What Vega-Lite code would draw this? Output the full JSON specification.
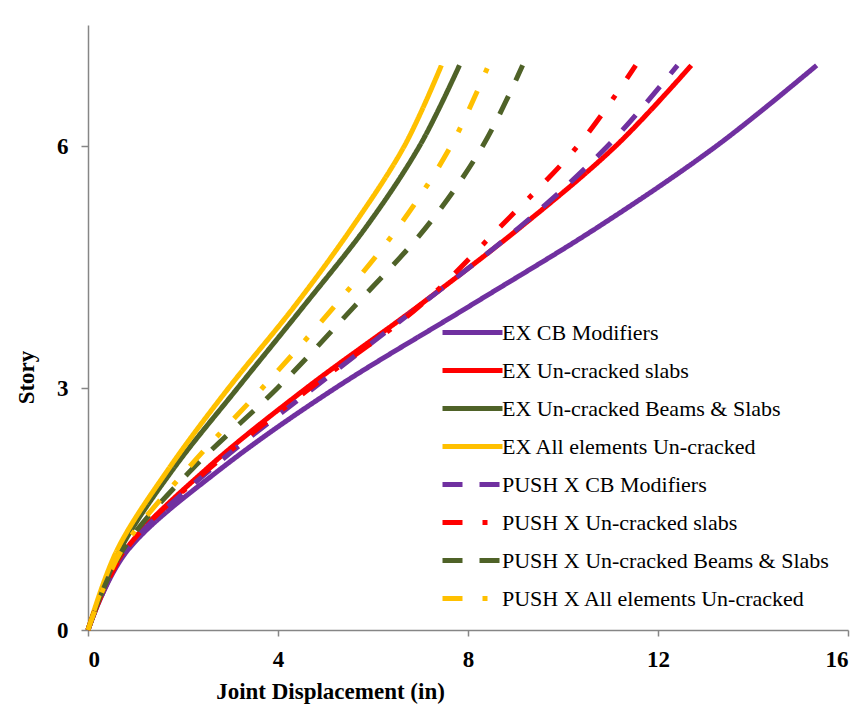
{
  "$schema": "https://vega.github.io/schema/vega-lite/v6.json",
  "width": 760,
  "height": 605,
  "autosize": "none",
  "padding": {"left": 88, "top": 25, "right": 15, "bottom": 93},
  "background": "white",
  "config": {
    "view": {"stroke": null},
    "font": "Liberation Serif",
    "legend": {"labelFont": "Liberation Serif"}
  },
  "data": {
    "values": [
      {"series": "EX CB Modifiers", "story": 0, "disp": 0},
      {"series": "EX CB Modifiers", "story": 1, "disp": 0.85},
      {"series": "EX CB Modifiers", "story": 2, "disp": 2.8},
      {"series": "EX CB Modifiers", "story": 3, "disp": 5.21},
      {"series": "EX CB Modifiers", "story": 4, "disp": 7.99},
      {"series": "EX CB Modifiers", "story": 5, "disp": 10.75},
      {"series": "EX CB Modifiers", "story": 6, "disp": 13.23},
      {"series": "EX CB Modifiers", "story": 7, "disp": 15.34},
      {"series": "EX Un-cracked slabs", "story": 0, "disp": 0},
      {"series": "EX Un-cracked slabs", "story": 1, "disp": 0.8},
      {"series": "EX Un-cracked slabs", "story": 2, "disp": 2.5},
      {"series": "EX Un-cracked slabs", "story": 3, "disp": 4.6},
      {"series": "EX Un-cracked slabs", "story": 4, "disp": 6.92},
      {"series": "EX Un-cracked slabs", "story": 5, "disp": 9.12},
      {"series": "EX Un-cracked slabs", "story": 6, "disp": 11.11},
      {"series": "EX Un-cracked slabs", "story": 7, "disp": 12.7},
      {"series": "EX Un-cracked Beams & Slabs", "story": 0, "disp": 0},
      {"series": "EX Un-cracked Beams & Slabs", "story": 1, "disp": 0.68},
      {"series": "EX Un-cracked Beams & Slabs", "story": 2, "disp": 1.8},
      {"series": "EX Un-cracked Beams & Slabs", "story": 3, "disp": 3.15},
      {"series": "EX Un-cracked Beams & Slabs", "story": 4, "disp": 4.52},
      {"series": "EX Un-cracked Beams & Slabs", "story": 5, "disp": 5.86},
      {"series": "EX Un-cracked Beams & Slabs", "story": 6, "disp": 6.98},
      {"series": "EX Un-cracked Beams & Slabs", "story": 7, "disp": 7.82},
      {"series": "EX All elements Un-cracked", "story": 0, "disp": 0},
      {"series": "EX All elements Un-cracked", "story": 1, "disp": 0.62},
      {"series": "EX All elements Un-cracked", "story": 2, "disp": 1.7},
      {"series": "EX All elements Un-cracked", "story": 3, "disp": 2.96},
      {"series": "EX All elements Un-cracked", "story": 4, "disp": 4.33},
      {"series": "EX All elements Un-cracked", "story": 5, "disp": 5.57},
      {"series": "EX All elements Un-cracked", "story": 6, "disp": 6.66},
      {"series": "EX All elements Un-cracked", "story": 7, "disp": 7.44},
      {"series": "PUSH X CB Modifiers", "story": 0, "disp": 0},
      {"series": "PUSH X CB Modifiers", "story": 1, "disp": 0.82},
      {"series": "PUSH X CB Modifiers", "story": 2, "disp": 2.6},
      {"series": "PUSH X CB Modifiers", "story": 3, "disp": 4.75},
      {"series": "PUSH X CB Modifiers", "story": 4, "disp": 6.94},
      {"series": "PUSH X CB Modifiers", "story": 5, "disp": 9.1},
      {"series": "PUSH X CB Modifiers", "story": 6, "disp": 10.94},
      {"series": "PUSH X CB Modifiers", "story": 7, "disp": 12.41},
      {"series": "PUSH X Un-cracked slabs", "story": 0, "disp": 0},
      {"series": "PUSH X Un-cracked slabs", "story": 1, "disp": 0.78},
      {"series": "PUSH X Un-cracked slabs", "story": 2, "disp": 2.55},
      {"series": "PUSH X Un-cracked slabs", "story": 3, "disp": 4.68},
      {"series": "PUSH X Un-cracked slabs", "story": 4, "disp": 6.95},
      {"series": "PUSH X Un-cracked slabs", "story": 5, "disp": 8.68},
      {"series": "PUSH X Un-cracked slabs", "story": 6, "disp": 10.31},
      {"series": "PUSH X Un-cracked slabs", "story": 7, "disp": 11.53},
      {"series": "PUSH X Un-cracked Beams & Slabs", "story": 0, "disp": 0},
      {"series": "PUSH X Un-cracked Beams & Slabs", "story": 1, "disp": 0.74},
      {"series": "PUSH X Un-cracked Beams & Slabs", "story": 2, "disp": 2.2},
      {"series": "PUSH X Un-cracked Beams & Slabs", "story": 3, "disp": 3.99},
      {"series": "PUSH X Un-cracked Beams & Slabs", "story": 4, "disp": 5.59},
      {"series": "PUSH X Un-cracked Beams & Slabs", "story": 5, "disp": 7.13},
      {"series": "PUSH X Un-cracked Beams & Slabs", "story": 6, "disp": 8.31},
      {"series": "PUSH X Un-cracked Beams & Slabs", "story": 7, "disp": 9.15},
      {"series": "PUSH X All elements Un-cracked", "story": 0, "disp": 0},
      {"series": "PUSH X All elements Un-cracked", "story": 1, "disp": 0.72},
      {"series": "PUSH X All elements Un-cracked", "story": 2, "disp": 2.1},
      {"series": "PUSH X All elements Un-cracked", "story": 3, "disp": 3.67},
      {"series": "PUSH X All elements Un-cracked", "story": 4, "disp": 5.17},
      {"series": "PUSH X All elements Un-cracked", "story": 5, "disp": 6.54},
      {"series": "PUSH X All elements Un-cracked", "story": 6, "disp": 7.64},
      {"series": "PUSH X All elements Un-cracked", "story": 7, "disp": 8.43}
    ]
  },
  "mark": {"type": "line", "interpolate": "cardinal", "strokeWidth": 5, "strokeCap": "butt", "strokeJoin": "round"},
  "encoding": {
    "x": {
      "field": "disp", "type": "quantitative",
      "scale": {"domain": [0, 16], "nice": false},
      "axis": {
        "title": "Joint Displacement (in)",
        "values": [0, 4, 8, 12, 16],
        "grid": false,
        "domainColor": "#868686", "domainWidth": 1.5,
        "tickColor": "#868686", "tickWidth": 1.5, "tickSize": 6,
        "labelFont": "Liberation Serif", "labelFontWeight": "bold", "labelFontSize": 23, "labelColor": "#000000",
        "labelPadding": 12,
        "titleFont": "Liberation Serif", "titleFontWeight": "bold", "titleFontSize": 23, "titleColor": "#000000",
        "titleAnchor": "middle", "titleX": 242, "titleY": 50
      }
    },
    "y": {
      "field": "story", "type": "quantitative",
      "scale": {"domain": [0, 7.5], "nice": false},
      "axis": {
        "title": "Story",
        "values": [0, 3, 6],
        "grid": false,
        "domainColor": "#868686", "domainWidth": 1.5,
        "tickColor": "#868686", "tickWidth": 1.5, "tickSize": 7,
        "labelFont": "Liberation Serif", "labelFontWeight": "bold", "labelFontSize": 23, "labelColor": "#000000",
        "labelPadding": 13,
        "titleFont": "Liberation Serif", "titleFontWeight": "bold", "titleFontSize": 23, "titleColor": "#000000",
        "titleX": -50, "titleY": 352
      }
    },
    "color": {
      "field": "series", "type": "nominal",
      "scale": {
        "domain": ["EX CB Modifiers", "EX Un-cracked slabs", "EX Un-cracked Beams & Slabs", "EX All elements Un-cracked", "PUSH X CB Modifiers", "PUSH X Un-cracked slabs", "PUSH X Un-cracked Beams & Slabs", "PUSH X All elements Un-cracked"],
        "range": ["#7030A0", "#FF0000", "#4F6228", "#FFC000", "#7030A0", "#FF0000", "#4F6228", "#FFC000"]
      },
      "legend": {
        "title": null,
        "orient": "none",
        "legendX": 367,
        "legendY": 290,
        "symbolType": "M-2,0H2",
        "symbolSize": 900,
        "symbolStrokeWidth": 5,
        "labelFont": "Liberation Serif",
        "labelFontSize": 22,
        "labelColor": "#000000",
        "labelOffset": 12,
        "rowPadding": 9,
        "labelLimit": 500
      }
    },
    "strokeDash": {
      "field": "series", "type": "nominal",
      "scale": {
        "domain": ["EX CB Modifiers", "EX Un-cracked slabs", "EX Un-cracked Beams & Slabs", "EX All elements Un-cracked", "PUSH X CB Modifiers", "PUSH X Un-cracked slabs", "PUSH X Un-cracked Beams & Slabs", "PUSH X All elements Un-cracked"],
        "range": [[1, 0], [1, 0], [1, 0], [1, 0], [20, 17], [20, 20, 5, 20], [20, 17], [20, 20, 5, 20]]
      },
      "legend": null
    }
  }
}
